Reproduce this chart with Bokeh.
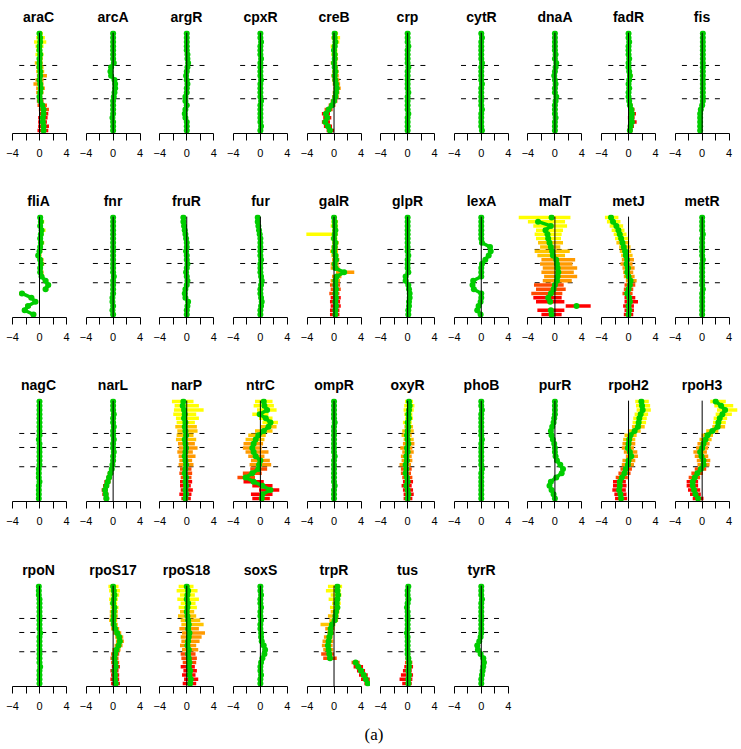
from bokeh.plotting import figure
from bokeh.layouts import gridplot, column
from bokeh.models import Range1d, FixedTicker, Div, ColumnDataSource
from bokeh.transform import linear_cmap
from bokeh.embed import file_html
from bokeh.resources import INLINE

# ---------------- data (24 gene blocks per regulator, listed top -> bottom) ----------------
names = ["araC", "arcA", "argR", "cpxR", "creB", "crp", "cytR", "dnaA", "fadR", "fis",
         "fliA", "fnr", "fruR", "fur", "galR", "glpR", "lexA", "malT", "metJ", "metR",
         "nagC", "narL", "narP", "ntrC", "ompR", "oxyR", "phoB", "purR", "rpoH2", "rpoH3",
         "rpoN", "rpoS17", "rpoS18", "soxS", "trpR", "tus", "tyrR"]
tick_values = [-4, -2, 0, 2, 4]
tick_labels = {-4: "\u22124", -2: "", 0: "0", 2: "", 4: "4"}
cut_levels = [7.58, 10.9, 15.47]   # block boundaries, counted from the top block

araC = [0.0,0.1,0.1,0.0,0.0,0.1,0.0,0.0,0.0,0.1,0.1,0.0,0.1,0.2,0.1,0.0,0.1,0.4,0.6,0.6,0.5,0.5,0.6,0.6]
araC_lo = [-0.4,-0.5,-0.8,-0.6,-0.5,-0.6,-0.4,-0.7,-0.5,-0.5,-0.4,-0.6,-0.9,-0.5,-0.5,-0.4,-0.4,-0.3,-0.1,0.0,-0.2,-0.2,-0.2,-0.3]
araC_hi = [0.5,0.8,1.0,0.6,0.4,0.6,0.5,0.5,0.6,0.7,1.1,0.6,0.6,0.8,0.6,0.4,0.6,1.1,1.4,1.3,1.2,1.1,1.4,1.3]
arcA = [0.0,0.0,0.0,0.0,0.0,0.0,0.0,0.1,-0.3,-0.4,-0.3,0.2,0.3,0.3,0.2,0.1,0.0,0.0,0.0,0.0,-0.1,0.0,0.0,0.0]
argR = [0.0,0.0,0.0,0.0,0.0,0.1,0.1,0.2,0.1,0.0,-0.1,0.0,0.1,0.0,0.0,-0.2,-0.2,0.0,-0.2,-0.3,-0.2,0.0,0.0,0.0]
cpxR = [0.0,0.0,0.1,0.0,0.0,0.0,0.1,0.0,0.0,0.0,0.0,0.1,0.0,0.0,0.0,0.0,0.1,0.0,0.0,0.0,0.0,0.0,0.1,0.0]
creB = [0.1,0.1,0.2,0.1,0.0,0.1,0.1,0.0,0.1,0.2,0.1,0.2,0.3,0.4,0.3,0.2,0.0,-0.3,-0.8,-1.2,-1.0,-1.3,-0.9,-0.6]
creB_lo = [-0.3,-0.4,-0.2,-0.5,-0.4,-0.4,-0.3,-0.5,-0.3,-0.3,-0.4,-0.3,-0.2,-0.1,-0.2,-0.3,-0.5,-0.8,-1.4,-1.8,-1.6,-1.8,-1.5,-1.1]
creB_hi = [0.6,0.9,0.8,0.5,0.5,0.6,0.6,0.5,0.6,0.7,0.7,0.8,0.9,1.0,0.8,0.7,0.5,0.2,-0.2,-0.6,-0.4,-0.6,-0.3,0.0]
crp = [0.0,0.0,0.0,0.1,0.0,0.0,0.0,0.0,0.1,0.0,0.0,0.0,0.0,0.0,0.1,0.0,0.0,0.0,0.0,0.1,0.0,0.0,0.0,0.0]
cytR = [0.0,0.1,0.0,0.0,0.0,0.0,0.0,0.1,0.0,0.0,0.0,0.0,0.1,0.0,0.0,0.0,0.0,0.0,0.1,0.0,0.0,0.0,0.0,0.1]
dnaA = [0.0,0.0,0.0,0.0,0.0,0.1,0.0,0.2,0.1,0.0,-0.1,0.0,0.1,0.0,0.0,0.2,0.1,0.0,0.0,0.0,0.1,0.0,0.0,0.0]
fadR = [0.0,0.0,0.1,0.0,0.0,0.0,0.1,0.0,0.0,0.1,0.2,0.1,0.0,0.1,0.0,0.0,0.1,0.2,0.4,0.5,0.4,0.5,0.3,0.2]
fadR_lo = [-0.2,-0.3,-0.2,-0.3,-0.2,-0.3,-0.2,-0.3,-0.3,-0.2,-0.2,-0.2,-0.3,-0.2,-0.3,-0.3,-0.2,-0.1,0.0,0.0,-0.1,0.0,-0.1,-0.2]
fadR_hi = [0.3,0.3,0.4,0.3,0.3,0.3,0.4,0.3,0.3,0.4,0.6,0.4,0.3,0.4,0.3,0.3,0.4,0.6,0.9,1.1,0.9,1.2,0.8,0.6]
fis = [0.1,0.1,0.1,0.1,0.1,0.1,0.1,0.1,0.1,0.1,0.1,0.1,0.1,0.1,0.1,0.1,0.1,0.0,-0.2,-0.3,-0.3,-0.3,-0.3,-0.3]

fliA = [0.1,0.2,0.1,0.3,0.2,0.1,0.2,0.1,0.0,-0.2,0.1,0.2,0.1,0.1,0.3,0.9,1.3,0.9,-2.6,-1.2,-0.6,-1.7,-2.2,-0.9]
fliA_lo = [-0.2,-0.1,-0.2,0.0,-0.1,-0.2,-0.1,-0.2,-0.3,-0.5,-0.2,-0.1,-0.2,-0.2,0.0,0.5,0.9,0.5,-3.0,-1.6,-1.0,-2.1,-2.6,-1.3]
fliA_hi = [0.5,0.7,0.5,0.9,0.6,0.5,0.7,0.5,0.4,0.3,0.6,0.7,0.5,0.6,0.7,1.3,1.7,1.3,-2.2,-0.8,-0.2,-1.3,-1.8,-0.5]
fnr = [0.0,0.0,0.0,0.0,0.0,0.0,0.0,0.0,0.0,0.0,0.0,0.0,0.0,0.0,0.1,0.0,0.0,0.0,0.0,-0.1,-0.1,0.0,-0.1,0.0]
fruR = [-0.5,-0.5,-0.4,-0.3,-0.2,-0.1,0.0,0.0,-0.1,0.0,0.0,0.1,0.0,-0.1,0.0,0.1,0.0,-0.2,-0.3,-0.2,0.2,0.1,0.0,0.0]
fur = [-0.4,-0.4,-0.3,-0.2,-0.1,0.0,0.0,0.0,0.0,0.0,0.1,0.0,0.0,0.0,0.1,0.2,0.1,0.0,0.0,0.1,0.2,0.1,0.0,0.0]
galR = [0.0,0.1,0.1,0.2,0.1,0.0,0.2,0.1,0.0,0.2,0.3,0.1,0.2,1.5,0.4,0.2,0.2,0.3,0.2,0.3,0.2,0.3,0.2,0.2]
galR_lo = [-0.3,-0.4,-0.5,-0.3,-4.1,-0.5,-0.3,-0.4,-0.6,-0.4,-0.3,-0.5,-0.5,0.3,-0.3,-0.5,-0.6,-0.5,-0.7,-0.5,-0.6,-0.5,-0.6,-0.6]
galR_hi = [0.4,0.6,0.6,0.6,0.6,0.5,0.7,0.6,0.6,0.7,0.8,0.7,0.8,3.0,1.1,0.9,0.9,1.0,0.8,1.0,0.9,1.0,0.8,0.8]
glpR = [0.0,0.0,0.0,0.0,0.0,0.0,0.0,0.0,0.0,0.1,0.0,0.0,0.0,0.1,-0.3,-0.3,0.1,0.2,0.3,0.3,0.2,0.2,0.1,0.1]
lexA = [0.0,0.0,0.0,0.0,0.0,0.0,0.1,1.3,1.4,1.1,0.6,0.1,0.0,0.0,0.0,-1.2,-1.3,-1.1,0.0,0.0,-0.1,-0.4,-0.6,-0.1]
malT = [-0.5,-2.5,-0.6,-1.4,-1.1,-1.0,-0.8,-0.6,-0.4,-0.3,0.2,0.3,0.4,0.5,0.4,0.3,0.0,-0.2,-0.6,-1.0,-0.7,3.2,-0.6,-0.5]
malT_lo = [-5.4,-4.0,-3.2,-2.8,-3.0,-2.8,-2.5,-2.2,-3.0,-2.6,-2.0,-2.2,-1.8,-2.0,-1.6,-1.8,-3.1,-2.8,-3.5,-3.2,-2.8,1.6,-2.6,-2.0]
malT_hi = [2.3,1.5,1.8,1.2,1.0,0.9,1.2,0.8,2.2,1.5,3.0,2.6,3.3,2.8,3.3,2.5,1.3,1.6,1.1,1.0,1.4,5.3,1.4,1.0]
metJ = [-2.6,-2.3,-1.8,-1.5,-1.3,-1.1,-0.9,-0.7,-0.5,-0.4,-0.2,-0.3,-0.1,-0.2,0.0,0.3,0.2,0.0,-0.2,0.1,0.2,0.0,0.1,0.0]
metJ_lo = [-3.5,-3.2,-2.8,-2.5,-2.2,-2.0,-1.8,-1.4,-1.3,-1.1,-1.0,-1.2,-0.9,-0.8,-0.7,-0.4,-0.6,-0.7,-0.9,-0.6,-0.6,-0.8,-0.6,-0.7]
metJ_hi = [-1.5,-1.2,-0.8,-0.6,-0.3,-0.1,0.1,0.3,0.4,0.6,0.8,0.6,0.9,0.7,0.9,1.2,1.0,0.7,0.6,1.0,1.4,0.8,0.8,0.7]
metR = [0.0,0.0,0.0,0.0,0.1,0.0,0.0,0.0,0.0,0.0,0.1,0.0,0.0,0.0,0.0,0.0,0.0,0.1,0.0,0.0,0.0,0.0,0.0,0.0]

nagC = [0.0,0.0,0.0,0.0,0.0,0.0,0.0,0.0,0.0,-0.1,0.0,0.0,0.0,0.0,0.0,0.0,-0.1,-0.1,-0.1,0.0,-0.1,-0.1,-0.1,-0.1]
narL = [0.0,0.0,0.0,0.1,0.0,0.0,0.1,0.0,0.0,0.1,0.0,0.0,0.1,0.0,0.0,-0.1,-0.2,-0.4,-0.6,-0.8,-1.0,-1.2,-1.1,-1.0]
narL_lo = [-0.2,-0.2,-0.2,-0.2,-0.3,-0.2,-0.2,-0.3,-0.2,-0.2,-0.3,-0.2,-0.2,-0.3,-0.3,-0.4,-0.5,-0.8,-1.0,-1.3,-1.5,-1.7,-1.6,-1.4]
narL_hi = [0.2,0.3,0.2,0.4,0.3,0.2,0.4,0.3,0.3,0.4,0.3,0.3,0.4,0.3,0.3,0.2,0.1,0.0,-0.2,-0.4,-0.6,-0.8,-0.7,-0.6]
narP = [-0.5,-0.6,-0.4,-0.3,-0.4,-0.2,-0.3,-0.2,-0.1,-0.3,-0.2,-0.1,-0.2,-0.3,-0.2,-0.1,-0.2,-0.3,-0.1,-0.2,-0.1,-0.2,-0.1,-0.2]
narP_lo = [-2.2,-1.8,-1.9,-2.0,-1.6,-1.5,-1.7,-1.4,-1.5,-1.6,-1.3,-1.2,-1.4,-1.2,-1.1,-1.2,-1.0,-1.1,-0.9,-1.0,-1.0,-0.9,-1.1,-0.8]
narP_hi = [1.0,1.8,2.5,1.4,1.8,1.2,1.5,1.6,1.0,1.4,1.2,1.6,0.9,1.3,0.8,1.0,0.7,0.8,0.7,0.8,0.6,0.9,0.7,0.6]
ntrC = [0.5,0.6,1.0,-0.1,0.8,1.5,1.2,0.5,-0.3,-0.7,-1.0,-1.2,-1.0,-0.7,0.0,-0.2,-0.3,-1.2,-2.2,-1.0,0.3,1.5,0.3,0.2]
ntrC_lo = [-0.8,-1.0,-0.5,-1.2,-0.2,0.3,0.0,-0.8,-1.8,-2.2,-2.5,-2.6,-2.2,-1.8,-1.4,-1.6,-1.5,-2.6,-3.4,-2.5,-1.2,-0.2,-1.4,-1.2]
ntrC_hi = [1.8,2.0,2.4,1.2,1.8,2.6,2.4,1.8,0.8,0.6,0.4,0.2,1.2,0.6,1.4,1.6,1.0,0.2,-0.8,0.5,1.8,2.8,1.8,1.4]
ompR = [0.0,0.0,0.0,0.0,0.0,0.1,0.0,0.0,0.0,0.0,0.0,0.0,0.0,0.1,0.0,0.0,0.0,0.0,0.0,0.0,0.1,0.0,0.0,0.0]
oxyR = [0.2,0.3,0.2,0.1,0.2,0.0,0.1,0.0,-0.1,0.0,0.1,-0.1,0.0,-0.2,-0.1,-0.3,-0.2,-0.3,-0.1,0.0,-0.2,0.0,0.1,0.0]
oxyR_lo = [-0.4,-0.5,-0.6,-0.5,-0.4,-0.7,-0.5,-0.8,-0.9,-0.6,-0.7,-1.1,-0.8,-1.0,-0.9,-1.2,-1.0,-1.0,-0.8,-0.7,-0.9,-0.7,-0.6,-0.6]
oxyR_hi = [0.8,1.0,0.9,0.7,0.8,0.6,0.8,0.9,0.6,0.9,1.0,0.7,0.9,0.6,0.7,0.5,0.6,0.5,0.7,0.8,0.6,0.8,0.9,0.7]
phoB = [0.0,0.0,0.1,0.0,0.0,0.0,0.0,0.0,0.0,0.1,0.0,0.0,0.0,0.0,0.0,0.0,0.1,0.0,0.0,0.0,0.0,0.0,0.0,0.0]
purR = [0.0,0.0,0.0,0.0,-0.1,-0.2,-0.4,-0.6,-0.5,-0.3,-0.1,0.0,0.0,0.1,0.3,0.8,1.2,1.0,0.2,-0.6,-0.8,-0.5,-0.2,0.0]
rpoH2 = [1.9,2.0,2.1,1.8,1.6,1.5,1.4,0.9,0.3,0.1,0.0,-0.1,0.2,0.4,0.0,-0.1,-0.4,-0.6,-1.0,-1.3,-1.3,-1.4,-1.2,-1.1]
rpoH2_lo = [1.0,1.1,1.2,0.9,0.7,0.6,0.5,-0.1,-0.6,-0.8,-0.9,-1.0,-0.7,-0.4,-0.9,-1.0,-1.2,-1.5,-1.9,-2.3,-2.3,-2.4,-2.1,-2.0]
rpoH2_hi = [3.0,3.2,3.3,2.9,2.7,2.6,2.4,1.8,1.2,1.0,1.0,0.8,1.3,1.4,1.0,0.8,0.5,0.3,-0.1,-0.4,-0.3,-0.4,-0.3,-0.2]
rpoH3 = [2.0,2.8,3.4,3.0,2.6,2.4,2.3,1.5,0.8,0.5,0.2,0.0,-0.3,-0.1,0.2,0.2,-0.2,-0.7,-1.1,-1.4,-1.4,-1.2,-1.0,-0.6]
rpoH3_lo = [1.2,1.8,2.2,2.0,1.7,1.6,1.5,0.6,-0.1,-0.4,-0.7,-0.9,-1.3,-1.1,-0.8,-0.7,-1.1,-1.6,-2.0,-2.3,-2.3,-2.1,-1.8,-1.4]
rpoH3_hi = [3.5,4.6,5.2,4.4,3.7,3.5,3.4,2.4,1.6,1.4,1.1,0.9,0.7,0.9,1.2,1.1,0.6,0.1,-0.3,-0.6,-0.6,-0.3,-0.2,0.2]

rpoN = [-0.1,-0.1,-0.1,0.0,0.0,0.0,0.0,0.0,0.0,0.0,0.0,0.1,0.0,0.0,0.0,0.0,0.0,0.0,0.0,0.1,0.0,0.0,0.0,0.0]
rpoS17 = [0.0,0.1,0.2,0.1,0.0,0.2,0.1,0.1,0.0,0.1,0.3,0.6,0.9,1.0,0.8,0.5,0.3,0.2,0.3,0.4,0.2,0.3,0.3,0.4]
rpoS17_lo = [-0.7,-0.6,-0.4,-0.6,-0.5,-0.4,-0.5,-0.5,-0.6,-0.4,-0.3,0.0,0.3,0.4,0.2,-0.1,-0.3,-0.4,-0.3,-0.2,-0.4,-0.3,-0.4,-0.3]
rpoS17_hi = [0.8,1.0,0.9,0.7,0.6,0.8,0.7,0.7,0.6,0.7,0.9,1.2,1.5,1.6,1.4,1.1,0.9,0.8,0.9,1.0,0.8,0.9,0.9,1.0]
rpoS18 = [0.0,0.2,0.1,0.0,0.2,0.1,0.0,0.1,0.2,0.3,0.2,0.4,0.3,0.2,0.1,0.3,0.2,0.3,0.4,0.3,0.5,0.4,0.6,0.5]
rpoS18_lo = [-1.2,-1.5,-1.0,-1.4,-0.9,-1.2,-1.0,-1.3,-0.9,-0.8,-1.1,-0.7,-0.9,-0.8,-1.0,-0.7,-0.9,-0.8,-0.6,-0.9,-0.5,-0.7,-0.4,-0.6]
rpoS18_hi = [1.0,1.6,1.2,1.8,1.3,1.5,1.1,1.4,2.0,2.5,1.8,2.7,2.2,1.9,1.4,1.7,1.3,1.5,1.4,1.2,1.5,1.3,1.7,1.4]
soxS = [0.0,0.0,0.1,0.0,0.0,0.1,0.0,0.0,0.1,0.0,0.0,0.1,0.1,0.2,0.5,0.7,0.6,0.3,0.1,0.0,0.0,0.1,0.0,0.0]
trpR = [0.5,0.5,0.6,0.5,0.4,0.5,0.3,0.2,0.1,-0.3,-0.5,-0.5,-0.7,-0.8,-0.9,-0.8,-0.7,-0.6,3.2,3.6,4.0,4.4,4.7,5.0]
trpR_lo = [-0.9,-1.2,-0.5,-0.8,-0.3,-0.6,-0.5,-0.9,-0.7,-2.0,-1.3,-1.0,-1.5,-1.7,-1.8,-1.6,-1.9,-1.6,2.6,2.9,3.4,3.7,4.0,4.5]
trpR_hi = [1.2,1.0,1.1,0.9,1.0,0.9,0.8,0.7,0.6,0.2,0.1,0.0,-0.2,-0.1,-0.2,-0.1,0.0,0.4,3.8,4.3,4.6,5.0,5.3,5.5]
tus = [0.1,0.0,0.0,0.1,0.0,-0.1,0.0,0.0,0.0,0.0,0.0,-0.1,0.0,0.0,0.0,0.0,0.0,0.1,0.2,0.2,0.1,0.2,0.1,0.1]
tus_lo = [-0.2,-0.2,-0.2,-0.2,-0.2,-0.3,-0.2,-0.2,-0.2,-0.2,-0.2,-0.3,-0.2,-0.2,-0.2,-0.2,-0.2,-0.3,-0.4,-0.5,-0.7,-1.0,-1.2,-0.8]
tus_hi = [0.3,0.2,0.2,0.3,0.2,0.1,0.2,0.2,0.2,0.2,0.2,0.1,0.2,0.2,0.2,0.2,0.3,0.5,0.7,0.8,0.6,0.8,0.7,0.6]
tyrR = [0.0,0.0,0.0,0.1,0.0,0.0,0.0,0.0,0.0,0.0,0.0,0.0,-0.1,-0.3,-0.6,-0.5,-0.1,0.3,0.4,0.3,0.2,0.1,0.0,0.0]

profiles = {
    "araC": (araC, araC_lo, araC_hi), "arcA": (arcA, None, None), "argR": (argR, None, None),
    "cpxR": (cpxR, None, None), "creB": (creB, creB_lo, creB_hi), "crp": (crp, None, None),
    "cytR": (cytR, None, None), "dnaA": (dnaA, None, None), "fadR": (fadR, fadR_lo, fadR_hi),
    "fis": (fis, None, None), "fliA": (fliA, fliA_lo, fliA_hi), "fnr": (fnr, None, None),
    "fruR": (fruR, None, None), "fur": (fur, None, None), "galR": (galR, galR_lo, galR_hi),
    "glpR": (glpR, None, None), "lexA": (lexA, None, None), "malT": (malT, malT_lo, malT_hi),
    "metJ": (metJ, metJ_lo, metJ_hi), "metR": (metR, None, None), "nagC": (nagC, None, None),
    "narL": (narL, narL_lo, narL_hi), "narP": (narP, narP_lo, narP_hi), "ntrC": (ntrC, ntrC_lo, ntrC_hi),
    "ompR": (ompR, None, None), "oxyR": (oxyR, oxyR_lo, oxyR_hi), "phoB": (phoB, None, None),
    "purR": (purR, None, None), "rpoH2": (rpoH2, rpoH2_lo, rpoH2_hi), "rpoH3": (rpoH3, rpoH3_lo, rpoH3_hi),
    "rpoN": (rpoN, None, None), "rpoS17": (rpoS17, rpoS17_lo, rpoS17_hi), "rpoS18": (rpoS18, rpoS18_lo, rpoS18_hi),
    "soxS": (soxS, None, None), "trpR": (trpR, trpR_lo, trpR_hi), "tus": (tus, tus_lo, tus_hi),
    "tyrR": (tyrR, None, None),
}

# ---------------- styling / layout ----------------
N = 24
GREEN = "#00CD00"
# colour of the spread bars by block position (bottom -> top)
bar_palette = (["#FF0000"] * 5 + ["#FF4A00"] * 3 + ["#FF9A00"] * 6 +
               ["#FFC400"] * 4 + ["#FFFF00"] * 6)
PX_PER_UNIT = 6.75
COLS = 10
col_center = [39 + 73.63 * k for k in range(COLS)]
col_bounds = [0, 76, 149, 223, 297, 370, 444, 518, 591, 665, 738]
row_heights = [184, 184, 185, 166]
TOP_B = 30
FRAME_H = 103
Y_LO, Y_HI = -0.71, N - 1 + 0.71
FONT = "Liberation Sans"
JUMP = 2.0   # consecutive blocks further apart than this are not joined


def panel(name, col, row):
    mid, lo, hi = profiles[name]
    left, right = col_bounds[col], col_bounds[col + 1]
    c = col_center[col]
    h = row_heights[row]
    bot_b = h - TOP_B - FRAME_H
    p = figure(width=right - left, height=h,
               x_range=Range1d((left - c) / PX_PER_UNIT, (right - c) / PX_PER_UNIT),
               y_range=Range1d(Y_LO, Y_HI), output_backend="svg", toolbar_location=None,
               y_axis_location=None, min_border_left=0, min_border_right=0,
               min_border_top=TOP_B, min_border_bottom=bot_b, title=name)
    p.title.align = "center"
    p.title.text_font = FONT
    p.title.text_font_style = "bold"
    p.title.text_font_size = "14px"
    p.title.text_color = "black"
    p.title.standoff = 12
    p.outline_line_color = None
    p.xgrid.visible = False
    p.ygrid.visible = False
    ax = p.xaxis[0]
    ax.ticker = FixedTicker(ticks=tick_values)
    ax.major_label_overrides = tick_labels
    ax.bounds = (tick_values[0], tick_values[-1])
    ax.minor_tick_line_color = None
    ax.major_tick_in = 0
    ax.major_tick_out = 7
    ax.axis_line_color = "black"
    ax.major_tick_line_color = "black"
    ax.major_label_text_color = "black"
    ax.major_label_text_font = FONT
    ax.major_label_text_font_size = "11px"
    ax.major_label_standoff = 8

    ys = [N - 1 - i for i in range(N)]
    # block boundaries
    for cl in cut_levels:
        p.segment(x0=-3, x1=3, y0=N - 1 - cl, y1=N - 1 - cl, line_color="black",
                  line_width=1, line_dash="5 6")
    if lo is not None:
        src = ColumnDataSource(dict(y=ys, lo=lo, hi=hi))
        p.segment(x0="lo", x1="hi", y0="y", y1="y", source=src, line_width=3.5,
                  line_color=linear_cmap("y", bar_palette, -0.5, N - 0.5))
    # green trace: join neighbouring blocks unless the profile jumps
    x0s, x1s, y0s, y1s = [], [], [], []
    for i in range(N - 1):
        if abs(mid[i + 1] - mid[i]) < JUMP:
            x0s.append(mid[i]); x1s.append(mid[i + 1]); y0s.append(ys[i]); y1s.append(ys[i + 1])
    p.segment(x0=x0s, x1=x1s, y0=y0s, y1=y1s, line_color=GREEN, line_width=3.5)
    p.scatter(x=mid, y=ys, size=6, fill_color=GREEN, line_color=None)
    p.segment(x0=0, x1=0, y0=Y_LO, y1=N - 1 + 0.2, line_color="black", line_width=1)
    return p


rows = []
for r in range(4):
    row = []
    for c in range(COLS):
        k = r * COLS + c
        row.append(panel(names[k], c, r) if k < len(names) else None)
    rows.append(row)

grid = gridplot(rows, toolbar_location=None)
caption = Div(text='<div style="text-align:center;width:738px;font-family:\'Liberation Serif\';'
                   'font-size:17px;line-height:18px;padding-top:2px;">(a)</div>',
              width=738, height=28)
layout = column(grid, caption)

open("out.html", "w").write(file_html(layout, INLINE))
